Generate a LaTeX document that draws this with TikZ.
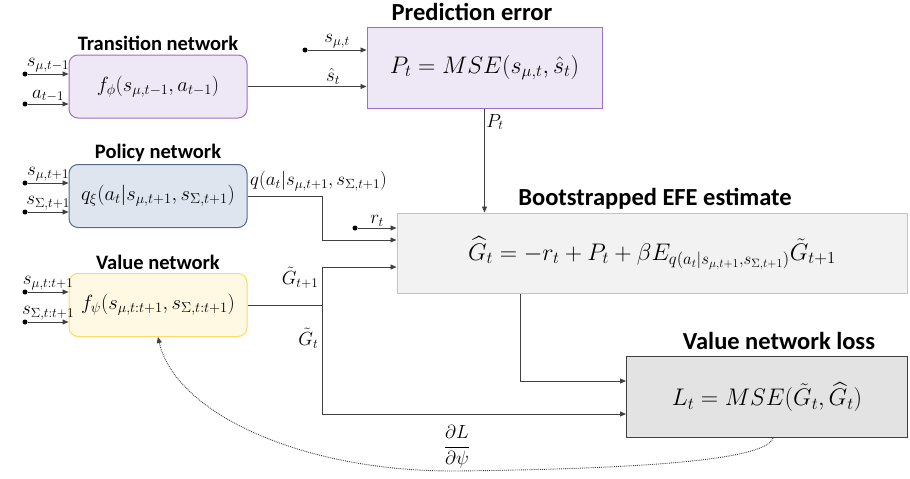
\RequirePackage{fix-cm}
\documentclass[tikz,border=0pt]{standalone}
\usepackage{amsmath}
\usepackage{fontspec}
\setmainfont{Carlito}
\usetikzlibrary{positioning,arrows.meta,calc}

\definecolor{transfill}{HTML}{EEE7F5}
\definecolor{transline}{HTML}{9B6FC8}
\definecolor{polfill}{HTML}{DEE5EF}
\definecolor{polline}{HTML}{56698A}
\definecolor{valfill}{HTML}{FFF8E3}
\definecolor{valline}{HTML}{FFD86A}
\definecolor{efefill}{HTML}{F2F2F2}
\definecolor{efeline}{HTML}{C4C4C4}
\definecolor{lossfill}{HTML}{E3E3E3}
\definecolor{lossline}{HTML}{3F3F3F}
\definecolor{wiregray}{HTML}{404040}

\begin{document}
\begin{tikzpicture}[x=1pt,y=-1pt,
    netbox/.style={draw,rounded corners=9pt,line width=1pt,minimum width=178pt,minimum height=63pt,font=\fontsize{20.5}{24}\selectfont},
    bigbox/.style={draw,line width=1pt,font=\fontsize{24}{28}\selectfont},
    title/.style={font=\fontsize{20.5}{24}\selectfont\bfseries,inner sep=0pt},
    bigtitle/.style={title,font=\fontsize{24.5}{28}\selectfont\bfseries},
    lbl/.style={font=\fontsize{19}{22}\selectfont,inner sep=1.5pt},
    dot/.style={circle,fill=black,inner sep=0pt,minimum size=5pt},
    link/.style={draw=wiregray,line width=0.9pt},
    arr/.style={link,-{Triangle[length=6pt,width=5pt]}}]
        \useasboundingbox (0,0) rectangle (910,479);

        % networks
        \node[netbox,fill=transfill,draw=transline] (trans) at (158,86.5) {$f_{\phi}(s_{\mu,t-1},a_{t-1})$};
        \node[netbox,fill=polfill,draw=polline] (policy) at (158,196) {$q_{\xi}(a_t|s_{\mu,t+1},s_{\Sigma,t+1})$};
        \node[netbox,fill=valfill,draw=valline] (value) at (158,305) {$f_{\psi}(s_{\mu,t:t+1},s_{\Sigma,t:t+1})$};
        \node[title] (transt) at (158,43) {Transition network};
        \node[title] (policyt) at (158,153) {Policy network};
        \node[title] (valuet) at (158,262) {Value network};

        % targets and losses
        \node[bigbox,fill=transfill,draw=transline,minimum width=235pt,minimum height=81pt] (pred) at (484.5,67.5) {$P_t = MSE(s_{\mu,t},\hat{s}_t)$};
        \node[bigbox,fill=efefill,draw=efeline,minimum width=510pt,minimum height=80pt] (efe) at (652,253) {$\widehat{G}_t = -r_t + P_t + \beta E_{q(a_t|s_{\mu,t+1},s_{\Sigma,t+1})}\tilde{G}_{t+1}$};
        \node[bigbox,fill=lossfill,draw=lossline,minimum width=281pt,minimum height=81pt] (loss) at (767,397) {$L_t = MSE(\tilde{G}_t,\widehat{G}_t)$};
        \node[bigtitle] (predt) at (472,12) {Prediction error};
        \node[bigtitle] (efet) at (655,199) {Bootstrapped EFE estimate};
        \node[bigtitle] (losst) at (779,341) {Value network loss};

        % inputs
        \node[dot] (smu1) at (25,74) {};
        \node[dot] (aprev) at (25,104) {};
        \node[dot] (smu2) at (25,183) {};
        \node[dot] (ssig2) at (25,212) {};
        \node[dot] (smu3) at (25,292) {};
        \node[dot] (ssig3) at (25,322) {};
        \node[dot] (smu0) at (305,50) {};
        \node[dot] (rdot) at (355,228) {};

        \draw[arr] (smu1) -- (smu1 -| trans.west) node[lbl,midway,above] (lsmu1) {$s_{\mu,t-1}$};
        \draw[arr] (aprev) -- (aprev -| trans.west) node[lbl,midway,above] (laprev) {$a_{t-1}$};
        \draw[arr] (smu2) -- (smu2 -| policy.west) node[lbl,midway,above] (lsmu2) {$s_{\mu,t+1}$};
        \draw[arr] (ssig2) -- (ssig2 -| policy.west) node[lbl,midway,above] (lssig2) {$s_{\Sigma,t+1}$};
        \draw[arr] (smu3) -- (smu3 -| value.west) node[lbl,midway,above] (lsmu3) {$s_{\mu,t:t+1}$};
        \draw[arr] (ssig3) -- (ssig3 -| value.west) node[lbl,midway,above] (lssig3) {$s_{\Sigma,t:t+1}$};
        \draw[arr] (smu0) -- (smu0 -| pred.west) node[lbl,midway,above] (lsmu0) {$s_{\mu,t}$};
        \draw[arr] (rdot) -- (rdot -| efe.west) node[lbl,midway,above] (lr) {$r_t$};

        % connections
        \draw[arr] (trans.east) -- (trans.east -| pred.west) node[lbl,pos=0.72,above] (lshat) {$\hat{s}_t$};
        \draw[arr] (pred.south) -- (pred.south |- efe.north) node[lbl,pos=0.13,right] (lpt) {$P_t$};
        \coordinate (qturn) at (322,196);
        \draw[arr] (policy.east) -- (qturn) |- ($(efe.west)+(0,-13)$);
        \node[lbl,anchor=south west] (lq) at ($(policy.east)+(1,-3)$) {$q(a_t|s_{\mu,t+1},s_{\Sigma,t+1})$};
        \coordinate (vsplit) at (322,305);
        \draw[link] (value.east) -- (vsplit);
        \draw[arr] (vsplit) |- ($(efe.west)+(0,14)$);
        \draw[arr] (vsplit) |- ($(loss.west)+(0,17)$);
        \node[lbl,anchor=east] (lgnext) at (320,278) {$\tilde{G}_{t+1}$};
        \node[lbl,anchor=east] (lgcur) at (320,338) {$\tilde{G}_t$};
        \draw[arr] ($(efe.south west)+(124,0)$) |- ($(loss.west)+(0,-16)$);

        % gradient back to the value network
        \draw[link,densely dotted,-{Triangle[length=6pt,width=5pt]}] ($(loss.south)+(6,0)$) .. controls (766,462) and (620,469) .. (457,471) .. controls (300,472) and (175,412) .. (value.south);
        \node[lbl] (lgrad) at (457,447) {$\dfrac{\partial L}{\partial \psi}$};
    \end{tikzpicture}
\end{document}
